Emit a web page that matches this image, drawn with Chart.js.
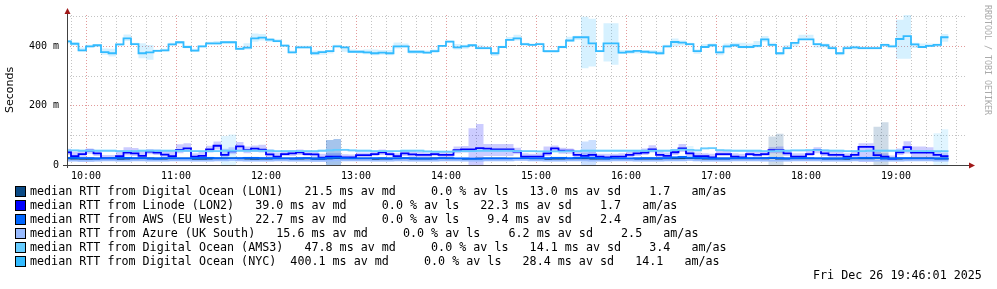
<!DOCTYPE html>
<html>
<head>
<meta charset="utf-8">
<script src="https://cdn.jsdelivr.net/npm/chart.js@4.4.1/dist/chart.umd.min.js"></script>
<style>
  body { margin: 0; background: #fff; }
  #wrap { position: relative; width: 997px; height: 289px; overflow: hidden; }
  #chart { position: absolute; left: 0; top: 0; }
  .row { position: absolute; left: 30px; font: 11.7px "DejaVu Sans Mono", monospace; line-height: 14px; white-space: pre; color: #000; }
  .sq { position: absolute; left: 15px; width: 9px; height: 9px; border: 1px solid #000; }
  #stamp { position: absolute; left: 813px; top: 268px; font: 11.7px "DejaVu Sans Mono", monospace; line-height: 14px; white-space: pre; }
  #brand { position: absolute; left: 983px; top: 5px; font: 8.3px "DejaVu Sans Mono", monospace; color: #aaa;
           writing-mode: vertical-rl; white-space: pre; }
</style>
</head>
<body>
<div id="wrap">
  <canvas id="chart" width="997" height="289"></canvas>
  <div id="legend"></div>
  <div id="stamp">Fri Dec 26 19:46:01 2025</div>
  <div id="brand">RRDTOOL / TOBI OETIKER</div>
</div>
<script>
// 5 minute steps, first step starts 09:45 (minutes since midnight)
var startMin = 585;
var stepMin = 5;

// median RTT in ms, one value per 5 min step (09:45 .. 19:30)
var lon1Med = [22, 21, 21,
  21, 21, 21, 21, 20, 21, 21, 22, 22, 21, 21, 21,
  21, 21, 20, 20, 21, 21, 22, 22, 21, 21, 20, 21,
  21, 21, 21, 21, 21, 22, 21, 21, 22, 23, 21, 21,
  21, 21, 20, 21, 21, 21, 22, 21, 21, 21, 22, 22,
  21, 20, 20, 20, 21, 21, 21, 21, 21, 21, 21, 20,
  20, 20, 21, 21, 20, 21, 21, 21, 21, 21, 21, 20,
  20, 21, 21, 21, 21, 21, 21, 22, 22, 21, 21, 21,
  21, 21, 21, 21, 21, 22, 22, 23, 21, 21, 21, 21,
  21, 21, 21, 21, 21, 20, 21, 21, 21, 23, 22, 21,
  21, 21, 22, 22, 22, 21, 21];
var lon1Lo = [19, 18, 18,
  18, 18, 18, 18, 17, 18, 18, 19, 19, 18, 18, 18,
  18, 18, 17, 17, 18, 18, 19, 19, 18, 18, 17, 18,
  18, 18, 18, 18, 18, 19, 18, 18, 0, 0, 18, 18,
  18, 18, 17, 18, 18, 18, 19, 18, 18, 18, 19, 19,
  18, 17, 17, 17, 18, 18, 18, 18, 18, 18, 18, 17,
  17, 17, 18, 18, 17, 18, 18, 18, 18, 18, 18, 17,
  17, 18, 18, 18, 18, 18, 18, 19, 19, 18, 18, 18,
  18, 18, 18, 18, 18, 19, 19, 0, 0, 18, 18, 18,
  18, 18, 18, 18, 18, 17, 18, 18, 18, 0, 0, 18,
  18, 18, 19, 19, 19, 18, 18];
var lon1Hi = [26, 25, 25,
  25, 25, 25, 25, 24, 25, 25, 26, 26, 25, 25, 25,
  25, 25, 24, 24, 25, 25, 26, 26, 25, 25, 24, 25,
  25, 25, 25, 25, 25, 26, 25, 25, 84, 88, 25, 25,
  25, 25, 24, 25, 25, 25, 26, 25, 25, 25, 26, 26,
  25, 24, 24, 24, 25, 25, 25, 25, 25, 25, 25, 24,
  24, 24, 25, 25, 24, 25, 25, 25, 25, 25, 25, 24,
  24, 25, 25, 25, 25, 25, 25, 26, 26, 25, 25, 25,
  25, 25, 25, 25, 25, 26, 26, 96, 105, 25, 25, 25,
  25, 25, 25, 25, 25, 24, 25, 25, 25, 129, 144, 25,
  25, 25, 26, 26, 26, 25, 25];

var linodeMed = [43, 30, 37,
  48, 39, 22, 22, 30, 42, 39, 31, 45, 42, 35, 30,
  51, 56, 28, 31, 53, 65, 34, 46, 63, 50, 55, 52,
  36, 28, 37, 39, 43, 37, 36, 25, 28, 28, 26, 26,
  33, 33, 37, 43, 37, 30, 39, 36, 34, 34, 37, 34,
  34, 50, 53, 53, 57, 55, 53, 53, 53, 45, 28, 28,
  28, 39, 56, 48, 48, 34, 31, 34, 28, 26, 28, 28,
  34, 39, 42, 53, 34, 31, 43, 56, 39, 30, 30, 26,
  37, 37, 28, 26, 37, 34, 37, 50, 50, 39, 28, 28,
  37, 50, 39, 34, 34, 28, 34, 61, 61, 33, 28, 19,
  43, 60, 42, 42, 42, 34, 30];
var linodeLo = [34, 24, 28,
  38, 30, 16, 16, 24, 32, 30, 24, 36, 34, 28, 24,
  40, 44, 22, 24, 42, 52, 26, 36, 48, 40, 44, 42,
  28, 22, 30, 30, 34, 30, 28, 18, 22, 22, 20, 20,
  26, 26, 30, 34, 30, 24, 30, 28, 27, 27, 30, 27,
  27, 40, 42, 0, 0, 30, 30, 30, 30, 36, 22, 22,
  22, 30, 44, 38, 38, 27, 24, 27, 22, 20, 22, 22,
  27, 30, 34, 42, 27, 24, 34, 44, 30, 23, 23, 20,
  30, 30, 22, 20, 30, 27, 30, 40, 40, 30, 22, 22,
  30, 40, 30, 27, 27, 22, 27, 10, 10, 26, 22, 14,
  34, 39, 25, 25, 25, 27, 24];
var linodeHi = [55, 45, 50,
  56, 50, 34, 34, 50, 60, 57, 48, 54, 52, 47, 50,
  70, 73, 40, 45, 65, 79, 55, 60, 78, 62, 66, 68,
  52, 42, 48, 50, 52, 48, 46, 38, 40, 40, 36, 35,
  42, 42, 46, 52, 46, 40, 48, 46, 44, 42, 46, 44,
  44, 62, 64, 124, 138, 71, 71, 71, 71, 58, 40, 38,
  40, 62, 66, 58, 56, 44, 42, 44, 38, 38, 38, 40,
  44, 50, 56, 67, 48, 42, 54, 71, 52, 42, 40, 38,
  48, 48, 40, 38, 48, 46, 48, 60, 62, 50, 40, 40,
  48, 60, 52, 46, 46, 40, 48, 73, 73, 44, 40, 32,
  56, 80, 62, 62, 60, 46, 42];

var awsMed = [24, 24, 23,
  23, 22, 22, 23, 24, 24, 23, 23, 22, 22, 23, 23,
  22, 22, 23, 24, 24, 23, 22, 22, 23, 24, 24, 23,
  23, 22, 22, 22, 23, 23, 22, 22, 24, 25, 23, 22,
  22, 22, 23, 23, 22, 22, 23, 23, 22, 22, 22, 23,
  23, 22, 22, 21, 21, 22, 22, 22, 21, 21, 22, 22,
  22, 23, 24, 24, 23, 24, 25, 24, 23, 22, 22, 22,
  22, 22, 23, 23, 23, 23, 26, 27, 25, 24, 23, 22,
  22, 22, 22, 23, 23, 22, 23, 24, 23, 22, 22, 23,
  23, 22, 22, 22, 22, 23, 23, 24, 24, 23, 22, 22,
  23, 23, 22, 22, 22, 22, 22];
var awsLo = [20, 20, 19,
  19, 18, 18, 19, 20, 20, 19, 19, 18, 18, 19, 19,
  18, 18, 19, 20, 20, 19, 18, 18, 19, 20, 20, 19,
  19, 18, 18, 18, 19, 19, 18, 18, 0, 0, 19, 18,
  18, 18, 19, 19, 18, 18, 19, 19, 18, 18, 18, 19,
  19, 18, 18, 17, 17, 18, 18, 18, 17, 17, 18, 18,
  18, 19, 20, 20, 19, 20, 0, 0, 19, 18, 18, 18,
  18, 18, 19, 19, 19, 19, 22, 23, 21, 20, 19, 18,
  18, 18, 18, 19, 19, 18, 19, 20, 19, 18, 18, 19,
  19, 18, 18, 18, 18, 19, 19, 20, 20, 19, 18, 18,
  19, 19, 18, 18, 18, 18, 18];
var awsHi = [28, 28, 27,
  27, 26, 26, 27, 28, 28, 27, 27, 26, 26, 27, 27,
  26, 26, 27, 28, 28, 27, 26, 26, 27, 28, 28, 27,
  27, 26, 26, 26, 27, 27, 26, 26, 84, 88, 27, 26,
  26, 26, 27, 27, 26, 26, 27, 27, 26, 26, 26, 27,
  27, 26, 26, 25, 25, 26, 26, 26, 25, 25, 26, 26,
  26, 27, 28, 28, 27, 28, 79, 84, 27, 26, 26, 26,
  26, 26, 27, 27, 27, 27, 30, 31, 29, 28, 27, 26,
  26, 26, 26, 27, 27, 26, 27, 28, 27, 26, 26, 27,
  27, 26, 26, 26, 26, 27, 27, 28, 28, 27, 26, 26,
  27, 27, 26, 26, 26, 26, 26];

var azureMed = [15, 15, 14,
  14, 15, 16, 16, 15, 15, 16, 16, 15, 15, 15, 16,
  16, 16, 15, 15, 15, 16, 16, 17, 16, 15, 15, 15,
  15, 16, 16, 15, 15, 15, 14, 14, 15, 16, 16, 16,
  16, 16, 15, 15, 15, 16, 16, 15, 15, 15, 15, 16,
  16, 16, 15, 15, 15, 16, 16, 16, 16, 17, 17, 16,
  16, 15, 15, 15, 16, 16, 16, 15, 15, 15, 16, 16,
  16, 15, 15, 15, 15, 16, 16, 16, 17, 16, 15, 15,
  15, 15, 16, 16, 16, 16, 15, 15, 15, 15, 16, 16,
  16, 16, 15, 15, 15, 15, 16, 16, 16, 15, 15, 15,
  15, 16, 16, 16, 16, 15, 15];
var azureLo = [12, 12, 11,
  11, 12, 13, 13, 12, 12, 13, 13, 12, 12, 12, 13,
  13, 13, 12, 12, 12, 13, 13, 14, 13, 12, 12, 12,
  12, 13, 13, 12, 12, 12, 11, 11, 12, 13, 13, 13,
  13, 13, 12, 12, 12, 13, 13, 12, 12, 12, 12, 13,
  13, 13, 12, 12, 12, 13, 13, 13, 13, 14, 14, 13,
  13, 12, 12, 12, 13, 13, 13, 12, 12, 12, 13, 13,
  13, 12, 12, 12, 12, 13, 13, 13, 14, 13, 12, 12,
  12, 12, 13, 13, 13, 13, 12, 12, 12, 12, 13, 13,
  13, 13, 12, 12, 12, 12, 13, 13, 13, 12, 12, 12,
  12, 13, 13, 13, 13, 12, 12];
var azureHi = [18, 18, 17,
  17, 18, 19, 19, 18, 18, 19, 19, 18, 18, 18, 19,
  19, 19, 18, 18, 18, 19, 19, 20, 19, 18, 18, 18,
  18, 19, 19, 18, 18, 18, 17, 17, 18, 19, 19, 19,
  19, 19, 18, 18, 18, 19, 19, 18, 18, 18, 18, 19,
  19, 19, 18, 18, 18, 19, 19, 19, 19, 20, 20, 19,
  19, 18, 18, 18, 19, 19, 19, 18, 18, 18, 19, 19,
  19, 18, 18, 18, 18, 19, 19, 19, 20, 19, 18, 18,
  18, 18, 19, 19, 19, 19, 18, 18, 18, 18, 19, 19,
  19, 19, 18, 18, 18, 18, 19, 19, 19, 18, 18, 18,
  18, 19, 19, 19, 19, 18, 18];

var ams3Med = [49, 49, 48,
  48, 48, 48, 48, 47, 47, 47, 48, 48, 48, 48, 48,
  48, 48, 47, 47, 47, 47, 48, 48, 48, 48, 48, 48,
  48, 47, 47, 47, 47, 47, 47, 48, 49, 51, 51, 49,
  48, 48, 47, 47, 47, 47, 48, 48, 48, 46, 45, 45,
  45, 47, 47, 47, 48, 48, 48, 48, 48, 47, 47, 47,
  46, 46, 46, 46, 47, 47, 48, 48, 48, 48, 48, 48,
  48, 48, 48, 48, 48, 48, 50, 52, 51, 49, 56, 57,
  50, 49, 48, 48, 48, 48, 47, 47, 48, 48, 49, 49,
  50, 50, 49, 48, 48, 47, 47, 47, 48, 48, 48, 48,
  48, 48, 47, 47, 47, 47, 47];
var ams3Lo = [45, 45, 44,
  44, 44, 44, 44, 43, 43, 43, 44, 44, 44, 44, 44,
  44, 44, 43, 43, 43, 43, 0, 0, 44, 44, 44, 44,
  44, 43, 43, 43, 43, 43, 43, 44, 45, 47, 47, 45,
  44, 44, 43, 43, 43, 43, 44, 44, 44, 42, 41, 41,
  41, 43, 43, 43, 44, 44, 44, 44, 44, 43, 43, 43,
  42, 42, 42, 42, 43, 43, 44, 44, 44, 44, 44, 44,
  44, 44, 44, 44, 44, 44, 46, 48, 40, 45, 52, 53,
  46, 45, 44, 44, 44, 44, 43, 43, 44, 44, 45, 45,
  46, 46, 45, 44, 44, 43, 43, 43, 44, 44, 44, 44,
  44, 44, 43, 43, 43, 0, 0];
var ams3Hi = [53, 53, 52,
  52, 52, 52, 52, 51, 51, 51, 52, 52, 52, 52, 52,
  52, 52, 51, 51, 51, 51, 98, 103, 52, 52, 52, 52,
  52, 51, 51, 51, 51, 51, 51, 52, 53, 55, 55, 53,
  52, 52, 51, 51, 51, 51, 52, 52, 52, 50, 49, 49,
  49, 51, 51, 51, 52, 52, 52, 52, 52, 51, 51, 51,
  50, 50, 50, 50, 51, 51, 52, 52, 52, 52, 52, 52,
  52, 52, 52, 52, 52, 52, 54, 56, 64, 53, 60, 61,
  54, 53, 52, 52, 52, 52, 51, 51, 52, 52, 53, 53,
  54, 54, 53, 52, 52, 51, 51, 51, 52, 52, 52, 52,
  52, 52, 51, 51, 51, 107, 121];

var nycMed = [417, 409, 387,
  400, 404, 381, 377, 407, 427, 408, 377, 380, 385, 387, 407,
  414, 398, 386, 400, 410, 410, 414, 414, 392, 396, 427, 430,
  423, 418, 403, 380, 397, 397, 377, 381, 384, 400, 397, 382,
  382, 380, 377, 379, 377, 400, 400, 382, 382, 379, 384, 402,
  416, 397, 400, 404, 394, 394, 377, 398, 422, 427, 408, 405,
  408, 384, 384, 398, 420, 431, 431, 410, 384, 410, 410, 379,
  382, 385, 382, 380, 377, 400, 415, 413, 408, 384, 398, 404,
  380, 400, 404, 398, 398, 402, 424, 405, 377, 394, 412, 424,
  424, 408, 404, 394, 377, 394, 397, 394, 394, 394, 405, 400,
  425, 435, 407, 398, 402, 405, 431];
var nycLo = [410, 403, 383,
  396, 398, 372, 366, 402, 418, 404, 360, 355, 383, 383, 403,
  408, 394, 382, 396, 406, 406, 410, 410, 388, 390, 416, 420,
  416, 414, 400, 376, 393, 393, 370, 372, 376, 396, 382, 378,
  376, 374, 370, 372, 370, 393, 396, 375, 375, 375, 378, 398,
  412, 390, 392, 398, 390, 390, 368, 395, 419, 420, 402, 402,
  404, 378, 378, 394, 416, 422, 326, 332, 380, 349, 338, 375,
  375, 376, 376, 375, 372, 396, 400, 403, 403, 375, 398, 398,
  370, 394, 398, 394, 394, 396, 416, 400, 370, 390, 400, 422,
  422, 396, 396, 390, 370, 390, 390, 390, 390, 390, 398, 396,
  358, 358, 395, 395, 398, 398, 416];
var nycHi = [422, 414, 396,
  406, 408, 393, 392, 410, 440, 412, 411, 405, 390, 392, 412,
  418, 404, 392, 404, 416, 418, 418, 418, 400, 411, 444, 442,
  428, 424, 407, 386, 402, 402, 386, 386, 388, 406, 400, 390,
  388, 390, 390, 388, 388, 413, 410, 388, 388, 386, 390, 405,
  420, 408, 406, 408, 404, 400, 380, 402, 432, 439, 412, 410,
  412, 388, 386, 402, 433, 436, 500, 493, 388, 478, 478, 388,
  388, 388, 388, 388, 386, 406, 427, 420, 412, 390, 408, 410,
  385, 410, 412, 412, 410, 418, 435, 412, 381, 405, 415, 439,
  439, 410, 410, 402, 381, 402, 402, 400, 400, 400, 410, 406,
  490, 506, 412, 410, 410, 410, 442];

var seriesNames = [
  'median RTT from Digital Ocean (LON1)   21.5 ms av md     0.0 % av ls   13.0 ms av sd    1.7   am/as',
  'median RTT from Linode (LON2)   39.0 ms av md     0.0 % av ls   22.3 ms av sd    1.7   am/as',
  'median RTT from AWS (EU West)   22.7 ms av md     0.0 % av ls    9.4 ms av sd    2.4   am/as',
  'median RTT from Azure (UK South)   15.6 ms av md     0.0 % av ls    6.2 ms av sd    2.5   am/as',
  'median RTT from Digital Ocean (AMS3)   47.8 ms av md     0.0 % av ls   14.1 ms av sd    3.4   am/as',
  'median RTT from Digital Ocean (NYC)  400.1 ms av md     0.0 % av ls   28.4 ms av sd   14.1   am/as'
];
var seriesColors = ['#0a4a85', '#0000ff', '#0066ff', '#99bbff', '#66ccff', '#33bbff'];

var series = [
  { med: lon1Med, lo: lon1Lo, hi: lon1Hi },
  { med: linodeMed, lo: linodeLo, hi: linodeHi },
  { med: awsMed, lo: awsLo, hi: awsHi },
  { med: azureMed, lo: azureLo, hi: azureHi },
  { med: ams3Med, lo: ams3Lo, hi: ams3Hi },
  { med: nycMed, lo: nycLo, hi: nycHi }
];

// each value holds from its own time stamp to the next one
function toPoints(arr) {
  var p = arr.map(function (v, i) { return { x: startMin + stepMin * i, y: v }; });
  p.push({ x: startMin + stepMin * arr.length, y: arr[arr.length - 1] });
  return p;
}

function alpha(hex, a) {
  var n = parseInt(hex.slice(1), 16);
  return 'rgba(' + (n >> 16) + ',' + ((n >> 8) & 255) + ',' + (n & 255) + ',' + a + ')';
}

var datasets = [];
series.forEach(function (s, k) {
  var c = seriesColors[k];
  datasets.push({ data: toPoints(s.lo), stepped: 'before', borderColor: 'rgba(0,0,0,0)', borderWidth: 1,
    pointRadius: 0, fill: false, order: 30 - k });
  datasets.push({ data: toPoints(s.hi), stepped: 'before', borderColor: 'rgba(0,0,0,0)', borderWidth: 1,
    pointRadius: 0, fill: '-1', backgroundColor: alpha(c, 0.2), order: 30 - k });
});
series.forEach(function (s, k) {
  datasets.push({ data: toPoints(s.med), stepped: 'before', borderColor: seriesColors[k], borderWidth: 1.8,
    pointRadius: 0, fill: false, order: 10 - k });
});

// legend rows as real text
var legend = document.getElementById('legend');
seriesNames.forEach(function (t, k) {
  var top = 184 + 14 * k;
  var sq = document.createElement('div');
  sq.className = 'sq';
  sq.style.top = (top + 2) + 'px';
  sq.style.background = seriesColors[k];
  legend.appendChild(sq);
  var row = document.createElement('div');
  row.className = 'row';
  row.style.top = top + 'px';
  row.textContent = t;
  legend.appendChild(row);
});

var xMin = 587.33, xMax = 1187.33;

var axesArrows = {
  id: 'axesArrows',
  afterDraw: function (chart) {
    var ctx = chart.ctx, a = chart.chartArea;
    var y0 = chart.scales.y.getPixelForValue(0);
    ctx.save();
    ctx.strokeStyle = '#404040';
    ctx.lineWidth = 1;
    ctx.beginPath();
    ctx.moveTo(a.left - 4, y0 + 0.5); ctx.lineTo(a.right + 3, y0 + 0.5);
    ctx.moveTo(a.left + 0.5, y0 + 3); ctx.lineTo(a.left + 0.5, a.top - 3);
    ctx.stroke();
    ctx.fillStyle = '#a01818';
    ctx.beginPath();
    ctx.moveTo(a.right + 8, y0 + 0.5); ctx.lineTo(a.right + 2, y0 - 2.5); ctx.lineTo(a.right + 2, y0 + 3.5);
    ctx.closePath(); ctx.fill();
    ctx.beginPath();
    ctx.moveTo(a.left + 0.5, a.top - 7); ctx.lineTo(a.left - 2.5, a.top - 1); ctx.lineTo(a.left + 3.5, a.top - 1);
    ctx.closePath(); ctx.fill();
    ctx.restore();
  }
};

new Chart(document.getElementById('chart'), {
  type: 'line',
  data: { datasets: datasets },
  options: {
    responsive: false,
    animation: false,
    devicePixelRatio: 1,
    layout: { padding: { left: 0, top: 15, right: 30, bottom: 104 } },
    plugins: { legend: { display: false }, tooltip: { enabled: false } },
    scales: {
      x: {
        type: 'linear',
        min: xMin,
        max: xMax,
        afterBuildTicks: function (s) {
          var t = [];
          for (var v = 590; v <= 1180; v += 10) t.push({ value: v });
          s.ticks = t;
        },
        afterFit: function (s) { s.height = 20; },
        border: { display: false, dash: [1, 2] },
        grid: {
          drawTicks: false,
          lineWidth: 1,
          color: function (c) { return c.tick && c.tick.value % 60 === 0 ? '#e29a9a' : '#c4c4c4'; }
        },
        ticks: {
          autoSkip: false,
          maxRotation: 0,
          padding: 5,
          color: '#000',
          font: { family: 'DejaVu Sans Mono', size: 10 },
          callback: function (v) {
            if (v % 60 !== 0) return '';
            var h = Math.floor(v / 60);
            return (h < 10 ? '0' : '') + h + ':00';
          }
        }
      },
      y: {
        min: 0,
        max: 506,
        afterBuildTicks: function (s) {
          s.ticks = [0, 100, 200, 300, 400, 500].map(function (v) { return { value: v }; });
        },
        afterFit: function (s) { s.width = 67; },
        border: { display: false, dash: [1, 2] },
        grid: {
          drawTicks: false,
          lineWidth: 1,
          color: function (c) { return c.tick && c.tick.value % 200 === 0 ? '#e29a9a' : '#c4c4c4'; }
        },
        title: {
          display: true,
          text: 'Seconds',
          color: '#000',
          font: { family: 'DejaVu Sans', size: 11 },
          padding: { top: 4, bottom: 0 }
        },
        ticks: {
          padding: 8,
          color: '#000',
          font: { family: 'DejaVu Sans Mono', size: 10 },
          callback: function (v) {
            if (v === 0) return '0';
            return v % 200 === 0 ? v + ' m' : '';
          }
        }
      }
    }
  },
  plugins: [axesArrows]
});
</script>
</body>
</html>
